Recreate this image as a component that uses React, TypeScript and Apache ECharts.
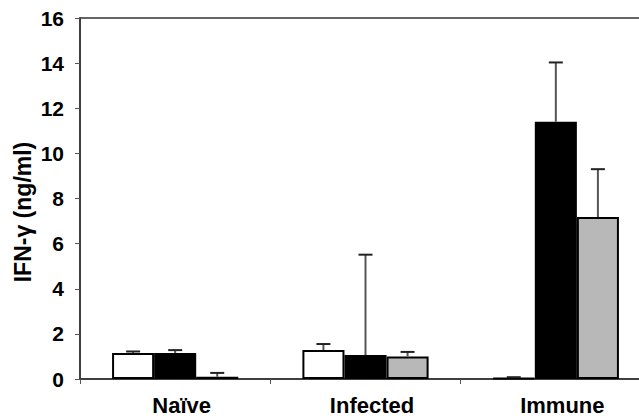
import React, { useEffect, useRef } from "react";
import * as echarts from "echarts";

const categories = ["Naïve", "Infected", "Immune"];
const seriesNames = ["White", "Black", "Gray"];
const whiteValues = [1.15, 1.28, 0.04];
const whiteErrors = [0.07, 0.27, 0.04];
const blackValues = [1.15, 1.06, 11.4];
const blackErrors = [0.13, 4.45, 2.63];
const grayValues = [0.1, 1.0, 7.18];
const grayErrors = [0.17, 0.2, 2.12];
const yTicks = [0, 2, 4, 6, 8, 10, 12, 14, 16];
const yTitle = "IFN-γ (ng/ml)";

const colors = ["#ffffff", "#000000", "#b8b8b8"];
const values = [whiteValues, blackValues, grayValues];
const errors = [whiteErrors, blackErrors, grayErrors];

export default function App() {
  const ref = useRef<HTMLDivElement>(null);
  useEffect(() => {
    if (!ref.current) return;
    const chart = echarts.init(ref.current, null, { renderer: "svg" });
    const barFrac = 126 / 190 / 3;
    const series: any[] = [];
    values.forEach((vals, si) => {
      series.push({
        type: "bar",
        name: seriesNames[si],
        data: vals,
        barGap: "0%",
        barCategoryGap: "33.7%",
        itemStyle: { color: colors[si], borderColor: "#000", borderWidth: 2 },
        z: 2,
      });
    });
    values.forEach((vals, si) => {
      series.push({
        type: "custom",
        name: seriesNames[si] + " err",
        data: vals.map((v, i) => [i, v, errors[si][i]]),
        z: 3,
        renderItem: (params: any, api: any) => {
          const ci = api.value(0);
          const v = api.value(1);
          const e = api.value(2);
          const catW = api.size([1, 0])[0];
          const bw = catW * barFrac;
          const base = api.coord([ci, v]);
          const top = api.coord([ci, v + e]);
          const x = base[0] + (si - 1) * bw;
          return {
            type: "group",
            children: [
              {
                type: "line",
                shape: { x1: x, y1: base[1], x2: x, y2: top[1] },
                style: { stroke: "#555", lineWidth: 2 },
              },
              {
                type: "line",
                shape: { x1: x - 7, y1: top[1], x2: x + 7, y2: top[1] },
                style: { stroke: "#222", lineWidth: 2 },
              },
            ],
          };
        },
      });
    });
    const font = "Liberation Sans, Arial, sans-serif";
    chart.setOption({
      animation: false,
      grid: {
        left: 80,
        width: 571,
        top: 18,
        bottom: 39,
        show: true,
        borderColor: "#333",
        borderWidth: 1.5,
        outerBoundsMode: "none",
        containLabel: false,
      },
      graphic: [
        {
          type: "text",
          x: 23,
          y: 212,
          rotation: Math.PI / 2,
          style: {
            text: yTitle,
            fill: "#000",
            font: `bold 23px ${font}`,
            align: "center",
            verticalAlign: "middle",
          },
        },
      ],
      xAxis: {
        type: "category",
        data: categories,
        axisLine: { lineStyle: { color: "#333", width: 1.5 } },
        axisTick: { show: true, length: 5, lineStyle: { color: "#555" } },
        axisLabel: {
          color: "#000",
          fontFamily: font,
          fontWeight: "bold",
          fontSize: 22,
          margin: 15,
          padding: [0, 0, 0, 13],
        },
      },
      yAxis: {
        type: "value",
        min: 0,
        max: 16,
        interval: 2,
        axisLine: { show: true, lineStyle: { color: "#333", width: 1.5 } },
        axisTick: { show: true, length: 5, lineStyle: { color: "#555" } },
        splitLine: { show: false },
        axisLabel: {
          color: "#000",
          fontFamily: font,
          fontWeight: "bold",
          fontSize: 21,
          margin: 16,
          formatter: (v: number) => (yTicks.includes(v) ? String(v) : ""),
        },
      },
      series,
    });
    return () => chart.dispose();
  }, []);
  return <div ref={ref} style={{ width: 639, height: 418, position: "absolute", left: 0, top: 0 }} />;
}
